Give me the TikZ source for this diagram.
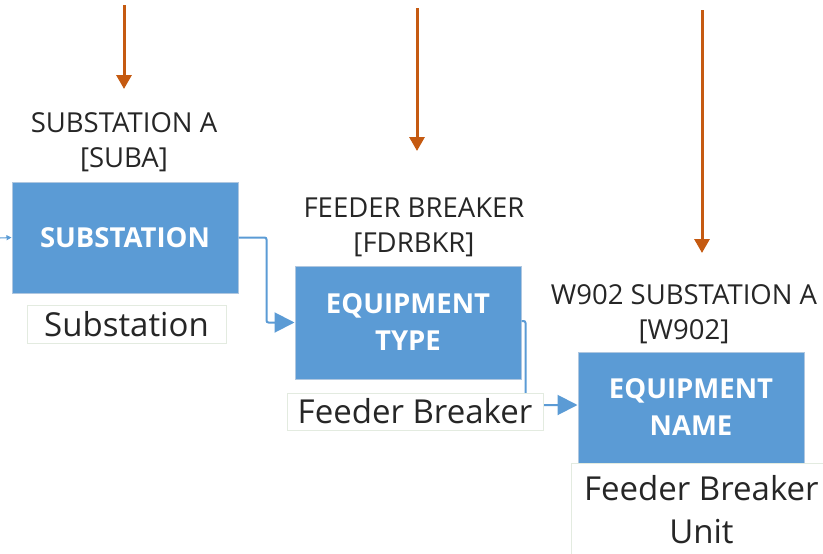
\documentclass[tikz,border=0pt]{standalone}
\usepackage{fontspec}
\setmainfont{Open Sans}
\usetikzlibrary{arrows.meta}
\definecolor{boxblue}{HTML}{5B9BD5}
\definecolor{boxedge}{HTML}{AFC7E0}
\definecolor{lbledge}{HTML}{E3EBE0}
\definecolor{arrred}{HTML}{C55A11}
\definecolor{txt}{HTML}{262626}
\tikzset{
  bluebox/.style={draw=boxedge, line width=1pt, fill=boxblue, text=white, font=\bfseries\fontsize{27.5}{37}\selectfont, align=center, inner sep=0pt, minimum width=226pt, minimum height=111pt},
  lblbox/.style={draw=lbledge, line width=0.8pt, fill=white, text=txt, font=\fontsize{33}{43}\selectfont, align=center, inner sep=0pt},
  heading/.style={text=txt, font=\fontsize{27.5}{35}\selectfont, align=center, inner sep=0pt},
  flow/.style={draw=boxblue, line width=2pt, rounded corners=2pt, -{Triangle[width=20pt,length=20pt]}},
  pointer/.style={draw=arrred, line width=3pt, -{Triangle[width=15pt,length=14pt]}}
}
\begin{document}
\begin{tikzpicture}[x=1pt,y=-1pt]
\useasboundingbox (0,0) rectangle (823,554);
% boxes
\node[bluebox] (b1) at (125,237.5) {SUBSTATION};
\node[bluebox, minimum height=113pt] (b2) at (408,322.5) {EQUIPMENT\\TYPE};
\node[bluebox] (b3) at (691,407.5) {EQUIPMENT\\NAME};
% flow connectors
\draw[flow] (b1.east) -- ++(28,0) |- (b2.west);
\draw[flow] ([yshift=1.5pt]b2.east) -- ++(4,0) |- ([yshift=2.5pt]b3.west);
\coordinate (stub) at (0,238);
\draw[draw=boxblue, line width=1pt, -{Triangle[width=5pt,length=5pt]}] (stub) -- (b1.west);
% labels
\node[lblbox, minimum width=199pt, minimum height=38pt] (l1) at (126.5,324) {Substation};
\node[lblbox, minimum width=256pt, minimum height=37pt] (l2) at (415,411.5) {Feeder Breaker};
\node[lblbox, minimum width=260pt, minimum height=92pt, anchor=north west] (l3) at (571,463) {Feeder Breaker\\Unit};
% headings
\node[heading] (h1) at (124,142) {SUBSTATION A\\{[SUBA]}};
\node[heading] (h2) at (414,227) {FEEDER BREAKER\\{[FDRBKR]}};
\node[heading] (h3) at (684,314) {W902 SUBSTATION A\\{[W902]}};
% pointers
\coordinate (p1s) at (124,5);
\coordinate (p1e) at (124,89);
\coordinate (p2s) at (417,8);
\coordinate (p2e) at (417,151);
\coordinate (p3s) at (702,10);
\coordinate (p3e) at (702,253);
\draw[pointer] (p1s) -- (p1e);
\draw[pointer] (p2s) -- (p2e);
\draw[pointer] (p3s) -- (p3e);
\end{tikzpicture}
\end{document}
